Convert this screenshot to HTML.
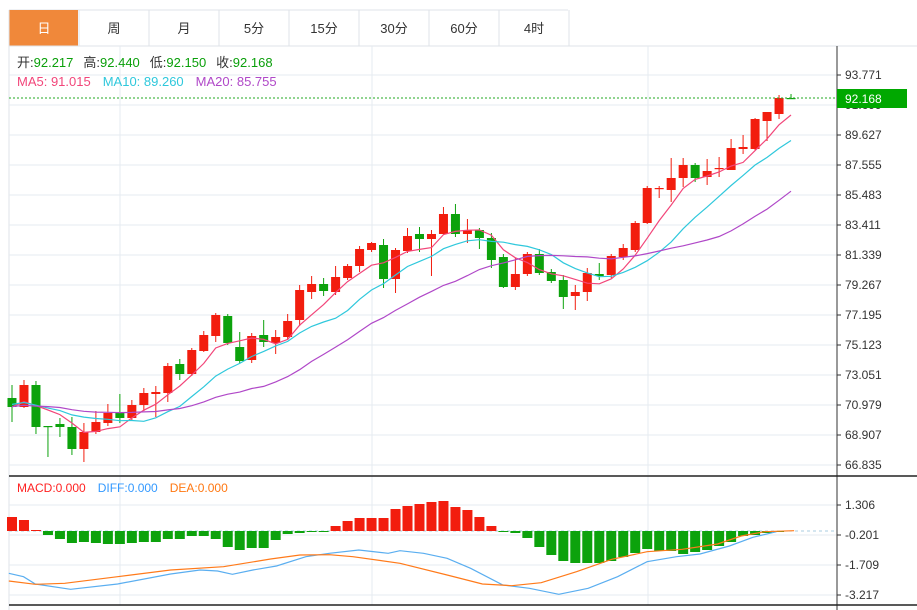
<!DOCTYPE html>
<html><head><meta charset="utf-8"><style>
body{margin:0;background:#fff;width:917px;height:610px;overflow:hidden;font-family:"Liberation Sans","Noto Sans CJK SC",sans-serif}
svg{position:absolute;left:0;top:0}
</style></head><body>
<svg id="s" width="917" height="610" xmlns="http://www.w3.org/2000/svg" font-family="Liberation Sans, Noto Sans CJK SC, sans-serif"></svg>
<script>
var s=document.getElementById('s'),h='';
function L(x1,y1,x2,y2,c,w,extra){h+='<line x1="'+x1+'" y1="'+y1+'" x2="'+x2+'" y2="'+y2+'" stroke="'+c+'" stroke-width="'+(w||1)+'" '+(extra||'')+'/>';}
function R(x,y,w,hh,c){h+='<rect x="'+x+'" y="'+y+'" width="'+w+'" height="'+hh+'" fill="'+c+'"/>';}
function T(x,y,t,c,sz,anchor){h+='<text x="'+x+'" y="'+y+'" fill="'+c+'" font-size="'+(sz||12)+'"'+(anchor?' text-anchor="'+anchor+'"':'')+'>'+t+'</text>';}
// tabs
var tabs=['日','周','月','5分','15分','30分','60分','4时'];
L(9,10,568,10,'#dfe3e8');
for(var i=0;i<8;i++){var x=9+i*70;if(i==0)R(x,10,69,36,'#f0883a');L(x+70,10,x+70,46,'#dfe3e8');T(x+35,33,tabs[i],i==0?'#fff':'#333',13,'middle');}
L(9,46,917,46,'#dfe3e8');L(9,10,9,610,'#dfe3e8');
// grid
var gy=[75,105,135,165,195,225,255,285,315,345,375,405,435,465];
L(9,75,837,75,'#e6ebf0');
gy.forEach(function(y){L(9,y,837,y,'#e6ebf0');});
[120,372,648].forEach(function(x){L(x,46,x,475,'#e6ebf0');L(x,476,x,605,'#e6ebf0');});
[505,535,565,595].forEach(function(y){L(9,y,837,y,'#e6ebf0');});
// axis labels
var pl=['93.771','','89.627','87.555','85.483','83.411','81.339','79.267','77.195','75.123','73.051','70.979','68.907','66.835'];
var py=[75,105,135,165,195,225,255,285,315,345,375,405,435,465];
L(837,46,837,610,'#333');
for(i=0;i<pl.length;i++){L(837,py[i],841,py[i],'#333');if(pl[i])T(845,py[i]+4,pl[i],'#333',12);}
T(845,109,'91.699','#333',12);
// candles
var C=[[398,407,385,422,0],[385,407,380,408,1],[385,427,381,434,0],[426,427,426,457,0],[424,427,418,437,0],[427,449,417,455,0],[432,449,423,462,1],[422,432,411,434,1],[413,423,404,426,1],[413,418,394,423,0],[405,418,400,420,1],[393,405,388,411,1],[392,394,386,417,1],[366,393,363,402,1],[364,374,359,380,0],[350,374,348,376,1],[335,351,331,352,1],[315,336,313,342,1],[316,343,314,345,0],[347,361,332,363,0],[336,360,333,363,1],[335,342,320,347,0],[337,343,330,354,1],[321,337,314,340,1],[290,320,285,326,1],[284,292,276,299,1],[284,291,278,296,0],[277,292,266,295,1],[266,278,264,280,1],[249,266,246,272,1],[243,250,242,252,1],[245,279,239,288,0],[250,279,248,293,1],[236,251,228,253,1],[234,239,227,252,0],[234,239,230,276,1],[214,234,207,235,1],[214,234,204,237,0],[230,234,219,243,1],[230,238,228,249,0],[238,260,233,268,0],[257,287,254,288,0],[274,287,258,290,1],[254,274,252,276,1],[254,273,249,275,0],[272,281,269,283,0],[280,297,275,309,0],[292,296,285,310,1],[273,292,268,301,1],[274,276,263,280,0],[256,275,254,278,1],[248,257,244,260,1],[223,250,221,252,1],[188,223,186,224,1],[188,189,186,198,1],[178,190,158,202,1],[165,178,158,187,1],[165,178,163,182,0],[171,177,159,185,1],[168,169,157,177,1],[148,170,139,170,1],[147,149,135,154,1],[119,149,118,150,1],[112,121,112,141,1],[98,114,95,119,1],[98,99,94,99,0]];
var closes=[];
C.forEach(function(c,i){var x=12+i*11.985;var col=c[4]?'#f21d0e':'#0ca20c';L(x,c[2],x,c[3],col,1);R(x-4.5,c[0],9,Math.max(1.2,c[1]-c[0]),col);closes.push(c[4]?c[0]:c[1]);});
function ma(n,col,pre){var pts=[];var arr=pre.concat(closes);for(var i=0;i<closes.length;i++){var j=i+pre.length,sum=0,k=0;for(var m=Math.max(0,j-n+1);m<=j;m++){sum+=arr[m];k++;}pts.push((12+i*11.985).toFixed(1)+','+(sum/k).toFixed(1));}h+='<polyline points="'+pts.join(' ')+'" fill="none" stroke="'+col+'" stroke-width="1.2"/>';}
var pre=[405,410,412,415,410,405,400,405,410,412,408,404,400,398,402,406,410,408,405,404];
ma(5,'#f2467a',pre);ma(10,'#2fc8dc',pre);ma(20,'#b048c8',pre);
// price line
L(9,98,837,98,'#22aa22',1,'stroke-dasharray="2,2"');
R(837,89,70,19,'#00a800');T(845,103,'92.168','#fff',12);
// info
h+='<text x="17" y="67" font-size="13"><tspan fill="#333">开:</tspan><tspan fill="#0a9f0a">92.217</tspan><tspan fill="#333" dx="10">高:</tspan><tspan fill="#0a9f0a">92.440</tspan><tspan fill="#333" dx="10">低:</tspan><tspan fill="#0a9f0a">92.150</tspan><tspan fill="#333" dx="10">收:</tspan><tspan fill="#0a9f0a">92.168</tspan></text>';
h+='<text x="17" y="86" font-size="13"><tspan fill="#f2467a">MA5: 91.015</tspan><tspan fill="#2fc8dc" dx="12">MA10: 89.260</tspan><tspan fill="#b048c8" dx="12">MA20: 85.755</tspan></text>';
// panel separators
L(9,476,917,476,'#222',1.5);L(9,605,917,605,'#222',1.5);
var ml=['1.306','-0.201','-1.709','-3.217'],my=[505,535,565,595];
for(i=0;i<4;i++){L(837,my[i],841,my[i],'#333');T(845,my[i]+4,ml[i],'#333',12);}
h+='<text x="17" y="492" font-size="12"><tspan fill="#f22">MACD:0.000</tspan><tspan fill="#3399ff" dx="12">DIFF:0.000</tspan><tspan fill="#ff7711" dx="12">DEA:0.000</tspan></text>';
L(9,531,837,531,'#aacde0',1,'stroke-dasharray="3,3"');
var M=[517,520,530,535,539,543,542,543,544,544,543,542,542,539,539,536,536,539,547,550,548,548,540,534,533,532,532,526,521,518,518,518,509,506,504,502,501,507,510,517,526,532,533,538,547,555,561,563,563,563,561,557,553,549,551,551,554,552,550,546,542,536,535,533,532,531];
M.forEach(function(y,i){var x=12+i*11.985;if(y<531)R(x-5,y,10,531-y,'#f21d0e');else if(y>531.5)R(x-5,531,10,y-531,'#0ca20c');});
function pl2(p,col){var pts=p.map(function(q){return (q[0]/1.7).toFixed(1)+','+(460+q[1]/3).toFixed(1);});h+='<polyline points="'+pts.join(' ')+'" fill="none" stroke="'+col+'" stroke-width="1.2"/>';}
pl2([[15,340],[40,350],[60,372],[120,388],[200,372],[290,342],[340,330],[370,333],[395,343],[430,330],[470,318],[520,290],[560,280],[610,270],[660,280],[680,272],[720,280],[760,295],[800,325],[855,375],[900,385],[950,403],[1000,385],[1050,350],[1100,305],[1150,290],[1190,282],[1240,258],[1280,232],[1320,215]],'#5aaef0');
pl2([[15,363],[60,373],[110,370],[200,350],[290,330],[380,320],[460,297],[510,285],[560,284],[600,290],[680,310],[760,345],[820,372],[870,377],[920,368],[980,335],[1040,298],[1100,275],[1160,268],[1220,252],[1260,228],[1300,215],[1350,212]],'#ff7a1a');
s.innerHTML=h;
</script>
</body></html>
